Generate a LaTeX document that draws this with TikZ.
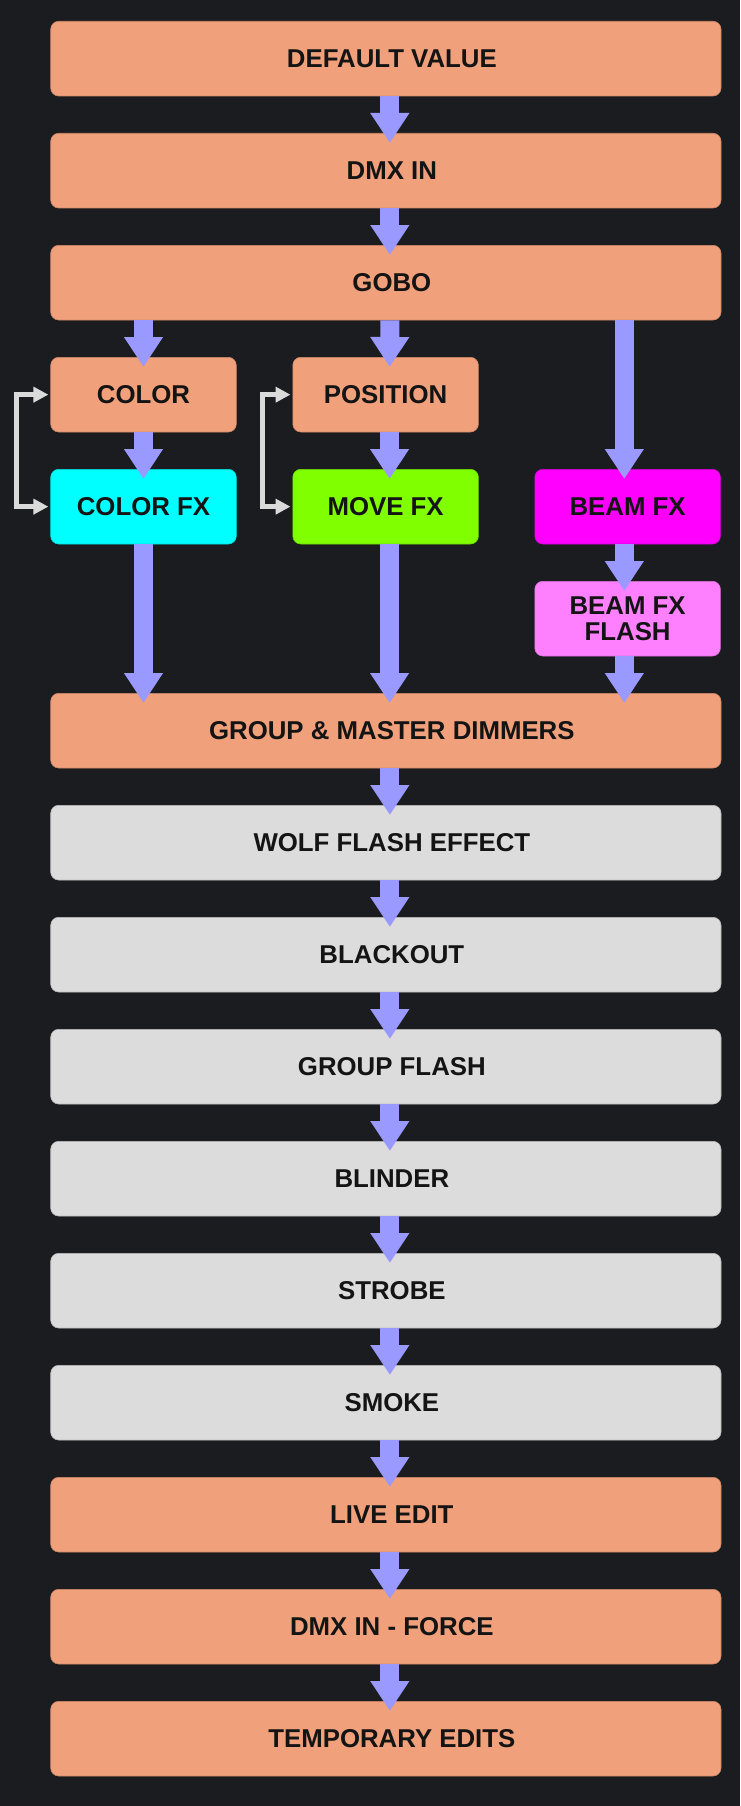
\documentclass[tikz,border=0pt]{standalone}
\usepackage{fontspec}
\setmainfont{Liberation Sans}
\usetikzlibrary{arrows.meta}

\definecolor{bg}{HTML}{1B1C1F}
\definecolor{salmon}{HTML}{F0A07A}
\definecolor{pale}{HTML}{DCDCDC}
\definecolor{fxcyan}{HTML}{00FFFF}
\definecolor{fxgreen}{HTML}{7FFF00}
\definecolor{fxmagenta}{HTML}{FF00FF}
\definecolor{fxpink}{HTML}{FF80FF}
\definecolor{flowc}{HTML}{9999FF}
\definecolor{loopc}{HTML}{DADADA}

\begin{document}
\begin{tikzpicture}[x=1pt, y=-1pt,
  box/.style={rounded corners=8pt, inner sep=0pt, minimum height=74.7pt, text=black!92, font=\bfseries\fontsize{25.8}{26}\selectfont, align=center},
  wide/.style={box, minimum width=670.3pt, fill=#1, draw=#1!85!black, line width=.6pt, execute at begin node={\hspace*{12pt}}},
  wide/.default=salmon,
  narrow/.style={box, minimum width=185.6pt, fill=#1, draw=#1!85!black, line width=.6pt},
  narrow/.default=salmon,
  flow/.style={draw=flowc, line width=19pt, -{Triangle[length=30pt,width=37pt]}},
  loopback/.style={draw=loopc, line width=5pt, {Triangle[length=15pt,width=15pt]}-{Triangle[length=15pt,width=15pt]}}]

\fill[bg] (0,0) rectangle (740,1806);

\node[wide] (dflt) at (385.85,58.65) {DEFAULT VALUE};
\node[wide] (dmx) at (385.85,170.65) {DMX IN};
\node[wide] (gobo) at (385.85,282.65) {GOBO};

\node[narrow] (color) at (143.5,394.65) {COLOR};
\node[narrow] (position) at (385.6,394.65) {POSITION};
\node[narrow=fxcyan] (colorfx) at (143.5,506.65) {COLOR FX};
\node[narrow=fxgreen] (movefx) at (385.6,506.65) {MOVE FX};
\node[narrow=fxmagenta] (beamfx) at (627.6,506.65) {BEAM FX};
\node[narrow=fxpink] (beamflash) at (627.6,618.65) {BEAM FX\\FLASH};

\node[wide] (group) at (385.85,730.65) {GROUP \& MASTER DIMMERS};

\foreach \n/\t [count=\i from 7] in {wolf/WOLF FLASH EFFECT, blackout/BLACKOUT, gflash/GROUP FLASH, blinder/BLINDER, strobe/STROBE, smoke/SMOKE}
\node[wide=pale] (\n) at (385.85,{58.65+112*\i}) {\t};

\node[wide] (live) at (385.85,1514.65) {LIVE EDIT};
\node[wide] (force) at (385.85,1626.65) {DMX IN - FORCE};
\node[wide] (temp) at (385.85,1738.65) {TEMPORARY EDITS};

\foreach \a/\b in {dflt/dmx, dmx/gobo, group/wolf, wolf/blackout, blackout/gflash, gflash/blinder, blinder/strobe, strobe/smoke, smoke/live, live/force, force/temp}
\draw[flow] ([xshift=4pt]\a.south) -- ([xshift=4pt,yshift=-10pt]\b.north);

\draw[flow] (gobo.south -| color.south) -- ([yshift=-10pt]color.north);
\draw[flow] ([xshift=4pt]gobo.south) -- ([xshift=4pt,yshift=-10pt]position.north);
\draw[flow] ([xshift=-3.3pt]gobo.south -| beamfx.north) -- ([xshift=-3.3pt,yshift=-10pt]beamfx.north);

\draw[flow] (color.south) -- ([yshift=-10pt]colorfx.north);
\draw[flow] ([xshift=4pt]position.south) -- ([xshift=4pt,yshift=-10pt]movefx.north);
\draw[flow] ([xshift=-3.3pt]beamfx.south) -- ([xshift=-3.3pt,yshift=-10pt]beamflash.north);

\draw[flow] (colorfx.south) -- ([yshift=-10pt]colorfx.south |- group.north);
\draw[flow] ([xshift=4pt]movefx.south) -- ([xshift=4pt,yshift=-10pt]movefx.south |- group.north);
\draw[flow] ([xshift=-3.3pt]beamflash.south) -- ([xshift=-3.3pt,yshift=-10pt]beamflash.south |- group.north);

\draw[loopback] ([xshift=-2pt]color.west) -- ++(-32,0) |- ([xshift=-2pt]colorfx.west);
\draw[loopback] ([xshift=-2pt]position.west) -- ++(-28,0) |- ([xshift=-2pt]movefx.west);

\end{tikzpicture}
\end{document}
